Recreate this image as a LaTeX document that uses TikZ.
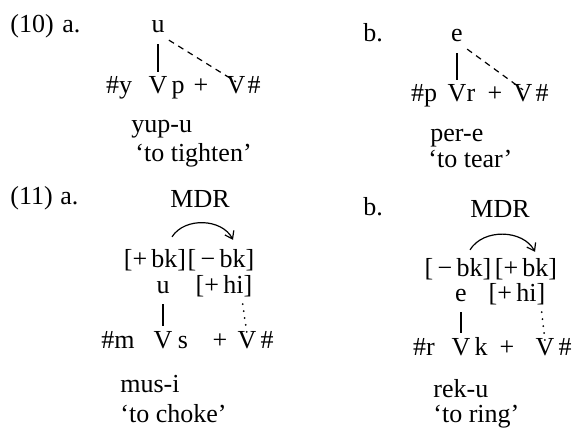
\documentclass[tikz,border=0pt]{standalone}
\usepackage{fontspec}
\setmainfont{Liberation Serif}
\usetikzlibrary{arrows.meta}

\begin{document}
\begin{tikzpicture}[
  x=0.5pt, y=-0.5pt,
  font=\fontsize{13}{15}\selectfont,
  seg/.style={inner sep=1pt, text height=1.5ex, text depth=.3ex, anchor=base},
  lbl/.style={inner sep=0pt, anchor=base west},
  gloss/.style={inner sep=0pt, anchor=base west},
  assoc/.style={line width=0.7pt, shorten <=3pt, shorten >=3pt},
  spread/.style={line width=0.6pt, dash pattern=on 3pt off 2.5pt},
  assocdot/.style={line width=1pt, line cap=round, dash pattern=on 0pt off 3.5pt},
  mdr/.style={line width=0.6pt, -{Straight Barb[length=3.5pt,width=5pt]}}
]
\useasboundingbox (0,0) rectangle (581,432);

% (10a)
\node[lbl] (n10) at (10,33) {(10)};
\node[lbl] (a10) at (62,33) {a.};
\node[seg] (u10a) at (158,33) {u};
\node[seg] (c10a) at (119,94) {\#y};
\node[seg] (v10a) at (158,94) {V};
\node[seg] (p10a) at (178,94) {p};
\node[seg] (pl10a) at (201,94) {+};
\node[seg] (w10a) at (236,94) {V};
\node[seg] (h10a) at (254,94) {\#};
\node[gloss] (f10a) at (131,133) {yup-u};
\node[gloss] (g10a) at (135,162) {`to tighten'};
\draw[assoc] (u10a) -- (v10a);
\draw[spread] ([shift={(2,2)}]u10a.south east) -- ([yshift=-2pt]w10a.north);

% (10b)
\node[lbl] (b10) at (363,42) {b.};
\node[seg] (e10b) at (457,42) {e};
\node[seg] (c10b) at (424,102) {\#p};
\node[seg] (v10b) at (457,102) {V};
\node[seg] (r10b) at (471,102) {r};
\node[seg] (pl10b) at (495,102) {+};
\node[seg] (w10b) at (523,102) {V};
\node[seg] (h10b) at (542,102) {\#};
\node[gloss] (f10b) at (430,142) {per-e};
\node[gloss] (g10b) at (428,168) {`to tear'};
\draw[assoc] (e10b) -- (v10b);
\draw[spread] ([shift={(2,2)}]e10b.south east) -- ([yshift=-2pt]w10b.north);

% (11a)
\node[lbl] (n11) at (10,205) {(11)};
\node[lbl] (a11) at (60,205) {a.};
\node[seg] (m11a) at (200,207) {MDR};
\node[seg] (bk11a) at (155,267) {[+\,bk]};
\node[seg] (nb11a) at (221,267) {[\,−\,bk]};
\node[seg] (u11a) at (163,293) {u};
\node[seg] (hi11a) at (224,293) {[+\,hi]};
\node[seg] (c11a) at (118,348) {\#m};
\node[seg] (v11a) at (163,348) {V};
\node[seg] (s11a) at (183,348) {s};
\node[seg] (pl11a) at (220,348) {+};
\node[seg] (w11a) at (247,348) {V};
\node[seg] (h11a) at (267,348) {\#};
\node[gloss] (f11a) at (120,392) {mus-i};
\node[gloss] (g11a) at (120,422) {`to choke'};
\draw[mdr] ([shift={(17,-14)}]bk11a.north) to[bend left=60] ([shift={(12,-11)}]nb11a.north);
\draw[assoc] (u11a) -- (v11a);
\draw[assocdot] ([shift={(-12,6)}]hi11a.south east) -- ([yshift=-1pt]w11a.north);

% (11b)
\node[lbl] (b11) at (363,215) {b.};
\node[seg] (m11b) at (500,217) {MDR};
\node[seg] (nb11b) at (458,276) {[\,−\,bk]};
\node[seg] (bk11b) at (526,276) {[+\,bk]};
\node[seg] (e11b) at (461,301) {e};
\node[seg] (hi11b) at (517,301) {[+\,hi]};
\node[seg] (c11b) at (424,355) {\#r};
\node[seg] (v11b) at (461,355) {V};
\node[seg] (k11b) at (481,355) {k};
\node[seg] (pl11b) at (507,355) {+};
\node[seg] (w11b) at (545,355) {V};
\node[seg] (h11b) at (565,355) {\#};
\node[gloss] (f11b) at (433,397) {rek-u};
\node[gloss] (g11b) at (433,422) {`to ring'};
\draw[mdr] ([shift={(12,-10)}]nb11b.north) to[bend left=60] ([shift={(9,-8)}]bk11b.north);
\draw[assoc] (e11b) -- (v11b);
\draw[assocdot] ([shift={(-6,6)}]hi11b.south east) -- ([yshift=-1pt]w11b.north);
\end{tikzpicture}
\end{document}
